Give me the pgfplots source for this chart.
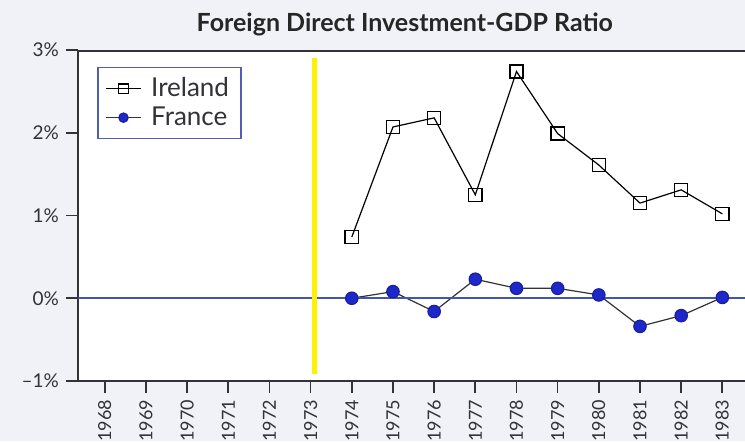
\documentclass[border=0pt]{standalone}
\usepackage{fontspec}
\setmainfont{Lato}
\usepackage{pgfplots}
\pgfplotsset{compat=1.18}

\definecolor{bgpaper}{RGB}{240,242,247}
\definecolor{zeroblue}{RGB}{70,85,170}
\definecolor{frblue}{RGB}{30,40,200}
\definecolor{legblue}{RGB}{80,95,180}
\definecolor{framegray}{RGB}{50,50,55}

\begin{document}
\begin{tikzpicture}
\fill[bgpaper] (-39pt,-30pt) rectangle (333.5pt,190.5pt);
\begin{axis}[
  scale only axis,
  width=333.5pt, height=165.5pt,
  at={(0,0)}, anchor=south west,
  xmin=1967.35, xmax=1983.55,
  ymin=-1, ymax=3,
  axis background/.style={fill=white},
  axis x line*=bottom, axis y line*=left,
  axis line style={framegray, line width=0.9pt, -},
  tick align=outside,
  major tick length=6pt,
  tick style={framegray, line width=0.8pt},
  xtick={1968,...,1983},
  xticklabels={1968,1969,1970,1971,1972,1973,1974,1975,1976,1977,1978,1979,1980,1981,1982,1983},
  xticklabel style={rotate=90, anchor=east, font=\fontsize{9}{10}\selectfont, text=framegray},
  ytick={-1,0,1,2,3},
  yticklabels={\textendash1\%,0\%,1\%,2\%,3\%},
  yticklabel style={font=\fontsize{9.5}{11}\selectfont, text=framegray},
  title={\bfseries Foreign Direct Investment-GDP Ratio},
  title style={at={(0.49,1)}, anchor=base, yshift=3.5pt, font=\fontsize{12.5}{14}\selectfont, text=black!85},
  legend style={at={(rel axis cs:0.0285,0.949)}, anchor=north west,
    draw=legblue, line width=0.8pt, fill=white,
    font=\fontsize{13}{15}\selectfont, text=framegray,
    inner xsep=4pt, inner ysep=4pt, row sep=1.5pt,
    nodes={inner ysep=1pt}},
  legend image code/.code={%
    \draw[#1, mark repeat=2, mark phase=2, every mark/.append style={scale=0.75}]
      plot coordinates {(0cm,0cm)(0.3cm,0cm)(0.6cm,0cm)};},
  legend cell align=left,
]
\addplot[black, line width=0.6pt, mark=square, mark size=3.3pt,
  mark options={fill=white, line width=0.7pt}] coordinates {
  (1974,0.74)(1975,2.07)(1976,2.18)(1977,1.25)(1978,2.74)
  (1979,1.99)(1980,1.61)(1981,1.15)(1982,1.31)(1983,1.02)
};
\addlegendentry{\hspace{3pt}Ireland}
\addplot[black!80, line width=0.6pt, mark=*, mark size=3.1pt,
  mark options={fill=frblue, draw=frblue!80!black}] coordinates {
  (1974,0.00)(1975,0.08)(1976,-0.16)(1977,0.23)(1978,0.12)
  (1979,0.12)(1980,0.04)(1981,-0.34)(1982,-0.21)(1983,0.01)
};
\addlegendentry{\hspace{3pt}France}
\addplot[zeroblue, line width=0.8pt, forget plot] coordinates {(1967.35,0)(1983.55,0)};
\addplot[yellow, line width=2.5pt, forget plot] coordinates {(1973.1,-0.92)(1973.1,2.9)};
\draw[framegray, line width=1.6pt] (rel axis cs:0,1) -- (rel axis cs:1,1);
\end{axis}
\pgfresetboundingbox
\path (-39pt,-30pt) rectangle (333.5pt,190.5pt);
\end{tikzpicture}
\end{document}
